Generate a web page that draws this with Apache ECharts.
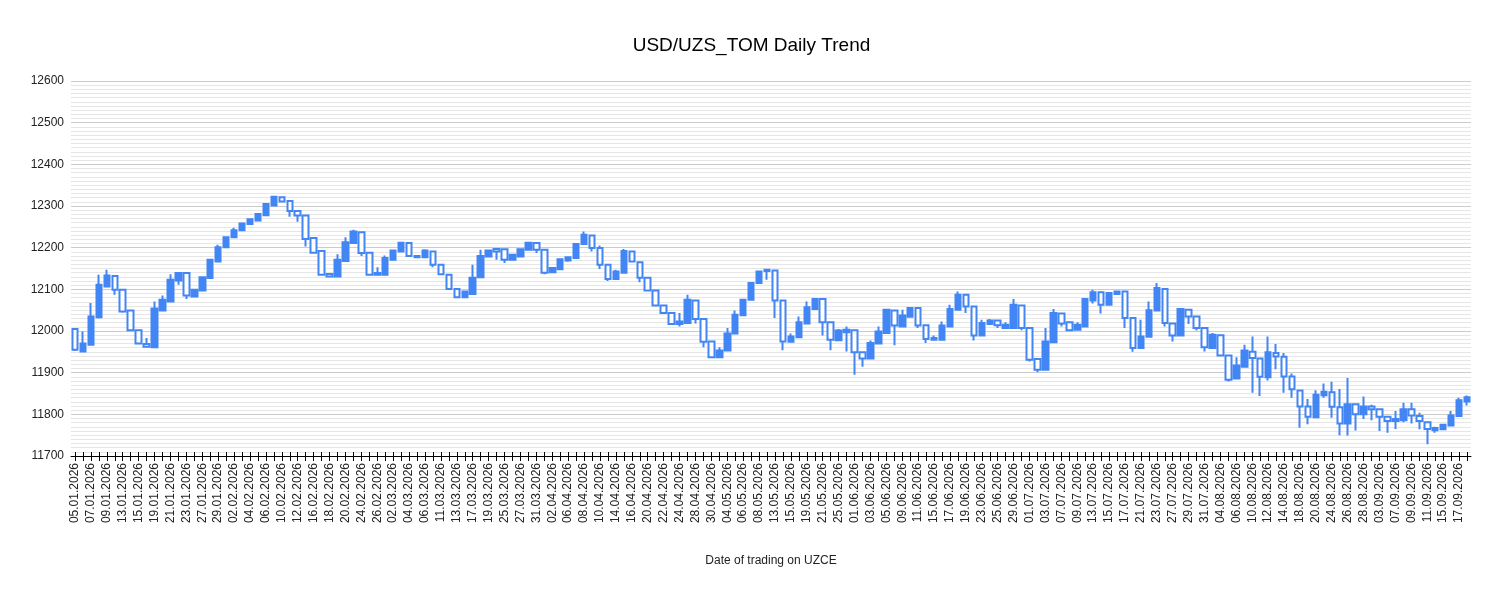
<!DOCTYPE html>
<html>
<head>
<meta charset="utf-8">
<script src="https://cdn.jsdelivr.net/npm/echarts@6/dist/echarts.min.js"></script>
<style>
  html, body { margin: 0; padding: 0; background: #fff; }
  #chart { width: 1503px; height: 593px; }
</style>
</head>
<body>
<div id="chart"></div>
<script>
// trading days on UZCE
var dates = [
  '05.01.2026','06.01.2026','07.01.2026','08.01.2026','09.01.2026','12.01.2026','13.01.2026','14.01.2026','15.01.2026','16.01.2026',
  '19.01.2026','20.01.2026','21.01.2026','22.01.2026','23.01.2026','26.01.2026','27.01.2026','28.01.2026','29.01.2026','30.01.2026',
  '02.02.2026','03.02.2026','04.02.2026','05.02.2026','06.02.2026','09.02.2026','10.02.2026','11.02.2026','12.02.2026','13.02.2026',
  '16.02.2026','17.02.2026','18.02.2026','19.02.2026','20.02.2026','23.02.2026','24.02.2026','25.02.2026','26.02.2026','27.02.2026',
  '02.03.2026','03.03.2026','04.03.2026','05.03.2026','06.03.2026','10.03.2026','11.03.2026','12.03.2026','13.03.2026','16.03.2026',
  '17.03.2026','18.03.2026','19.03.2026','24.03.2026','25.03.2026','26.03.2026','27.03.2026','30.03.2026','31.03.2026','01.04.2026',
  '02.04.2026','03.04.2026','06.04.2026','07.04.2026','08.04.2026','09.04.2026','10.04.2026','13.04.2026','14.04.2026','15.04.2026',
  '16.04.2026','17.04.2026','20.04.2026','21.04.2026','22.04.2026','23.04.2026','24.04.2026','27.04.2026','28.04.2026','29.04.2026',
  '30.04.2026','01.05.2026','04.05.2026','05.05.2026','06.05.2026','07.05.2026','08.05.2026','12.05.2026','13.05.2026','14.05.2026',
  '15.05.2026','18.05.2026','19.05.2026','20.05.2026','21.05.2026','22.05.2026','25.05.2026','26.05.2026','01.06.2026','02.06.2026',
  '03.06.2026','04.06.2026','05.06.2026','08.06.2026','09.06.2026','10.06.2026','11.06.2026','12.06.2026','15.06.2026','16.06.2026',
  '17.06.2026','18.06.2026','19.06.2026','22.06.2026','23.06.2026','24.06.2026','25.06.2026','26.06.2026','29.06.2026','30.06.2026',
  '01.07.2026','02.07.2026','03.07.2026','06.07.2026','07.07.2026','08.07.2026','09.07.2026','10.07.2026','13.07.2026','14.07.2026',
  '15.07.2026','16.07.2026','17.07.2026','20.07.2026','21.07.2026','22.07.2026','23.07.2026','24.07.2026','27.07.2026','28.07.2026',
  '29.07.2026','30.07.2026','31.07.2026','03.08.2026','04.08.2026','05.08.2026','06.08.2026','07.08.2026','10.08.2026','11.08.2026',
  '12.08.2026','13.08.2026','14.08.2026','17.08.2026','18.08.2026','19.08.2026','20.08.2026','21.08.2026','24.08.2026','25.08.2026',
  '26.08.2026','27.08.2026','28.08.2026','02.09.2026','03.09.2026','04.09.2026','07.09.2026','08.09.2026','09.09.2026','10.09.2026',
  '11.09.2026','14.09.2026','15.09.2026','16.09.2026','17.09.2026','18.09.2026'
];

var openVals = [
  12005,11951,11967,12033,12107,12132,12099,12049,12002,11969,
  11961,12049,12071,12121,12139,12083,12097,12127,12167,12201,
  12225,12242,12257,12265,12278,12301,12321,12312,12288,12277,
  12223,12192,12137,12131,12168,12211,12237,12188,12135,12135,
  12171,12191,12211,12180,12177,12191,12159,12135,12101,12081,
  12089,12129,12179,12197,12196,12171,12179,12195,12211,12195,
  12141,12148,12169,12175,12209,12229,12199,12159,12125,12140,
  12191,12165,12128,12097,12061,12043,12017,12019,12073,12029,
  11975,11937,11953,11994,12038,12075,12115,12147,12145,12073,
  11974,11985,12018,12053,12077,12021,11978,11997,12002,11949,
  11934,11970,11995,12049,12011,12034,12055,12014,11979,11979,
  12011,12051,12087,12059,11989,12017,12025,12007,12007,12061,
  12007,11933,11907,11973,12042,12021,12003,12011,12073,12093,
  12063,12089,12095,12031,11959,11986,12049,12101,12018,11989,
  12051,12035,12007,11959,11990,11941,11886,11914,11950,11934,
  11889,11947,11938,11891,11857,11819,11793,11846,11853,11817,
  11778,11824,11800,11819,11812,11794,11784,11786,11812,11796,
  11781,11762,11764,11773,11796,11831
];
var closeVals = [
  11955,11970,12035,12111,12133,12099,12047,12002,11970,11962,
  12054,12075,12123,12139,12085,12099,12129,12171,12201,12225,
  12242,12258,12268,12281,12305,12322,12311,12288,12277,12221,
  12188,12135,12131,12171,12213,12239,12187,12135,12139,12175,
  12193,12212,12180,12177,12193,12159,12136,12101,12081,12095,
  12128,12180,12193,12191,12171,12183,12196,12212,12195,12140,
  12151,12172,12177,12209,12231,12199,12159,12125,12143,12192,
  12167,12128,12097,12061,12043,12017,12023,12075,12029,11974,
  11937,11953,11994,12039,12075,12115,12143,12144,12073,11975,
  11987,12021,12057,12077,12021,11979,12001,12003,11949,11934,
  11971,11999,12051,12013,12037,12055,12013,11981,11983,12013,
  12053,12087,12059,11989,12019,12025,12014,12015,12063,12007,
  11931,11907,11975,12043,12018,12002,12015,12077,12093,12063,
  12091,12095,12031,11959,11987,12050,12103,12019,11989,12053,
  12035,12007,11961,11991,11941,11883,11917,11953,11935,11890,
  11949,11939,11891,11860,11819,11794,11847,11854,11818,11778,
  11824,11800,11819,11812,11794,11784,11789,11812,11797,11784,
  11765,11767,11775,11797,11834,11841
];
var lowVals = [
  11952,11950,11965,12030,12105,12087,12044,12000,11968,11960,
  11960,12048,12070,12111,12077,12082,12096,12126,12166,12200,
  12224,12241,12256,12264,12277,12300,12309,12274,12262,12203,
  12186,12133,12129,12130,12167,12210,12180,12134,12133,12134,
  12170,12190,12179,12175,12176,12153,12135,12100,12080,12080,
  12088,12128,12178,12171,12163,12170,12178,12194,12187,12136,
  12140,12147,12166,12174,12208,12191,12149,12120,12124,12139,
  12166,12117,12096,12060,12042,12016,12011,12018,12018,11961,
  11936,11936,11952,11993,12037,12074,12114,12123,12031,11954,
  11973,11984,12017,12052,11989,11954,11977,11951,11895,11914,
  11933,11969,11994,11966,12010,12033,12007,11971,11978,11978,
  12010,12050,12043,11977,11988,12016,12007,12006,12006,12002,
  11927,11901,11906,11972,12011,12001,12002,12010,12066,12042,
  12062,12088,12007,11950,11958,11985,12048,12011,11975,11988,
  12017,12001,11951,11958,11939,11879,11885,11913,11852,11844,
  11881,11908,11852,11840,11768,11776,11792,11840,11792,11750,
  11749,11761,11789,11786,11760,11756,11765,11781,11778,11764,
  11728,11756,11763,11772,11795,11821
];
var highVals = [
  12007,11999,12067,12135,12147,12134,12100,12050,12003,11983,
  12071,12085,12136,12140,12141,12100,12130,12172,12207,12226,
  12248,12259,12269,12282,12306,12323,12322,12313,12289,12278,
  12224,12193,12138,12184,12225,12243,12238,12189,12153,12181,
  12194,12213,12212,12182,12196,12192,12160,12136,12102,12096,
  12159,12195,12194,12198,12197,12184,12197,12213,12212,12196,
  12152,12173,12179,12210,12239,12230,12205,12160,12147,12197,
  12192,12166,12129,12098,12062,12044,12043,12087,12074,12030,
  11976,11961,12007,12049,12076,12116,12144,12149,12146,12074,
  11994,12035,12071,12078,12078,12022,12005,12011,12003,11950,
  11977,12011,12052,12050,12051,12056,12056,12015,11989,12023,
  12063,12095,12088,12060,12027,12029,12026,12021,12077,12062,
  12008,11934,12007,12053,12043,12022,12021,12078,12099,12094,
  12092,12096,12096,12032,12027,12071,12115,12102,12019,12055,
  12052,12036,12008,11995,11991,11942,11937,11967,11987,11935,
  11987,11969,11947,11898,11858,11837,11858,11874,11878,11861,
  11887,11826,11843,11823,11813,11795,11808,11828,11828,11804,
  11782,11770,11776,11808,11840,11845
];

var yTicks = { min: 11700, max: 12600, step: 100 };

var candles = dates.map(function (d, i) {
  return [openVals[i], closeVals[i], lowVals[i], highVals[i]];
});

var blue = '#4285F4';
var chart = echarts.init(document.getElementById('chart'));
chart.setOption({
  animation: false,
  backgroundColor: '#fff',
  textStyle: { fontFamily: 'Liberation Sans, Arial, sans-serif' },
  title: {
    text: 'USD/UZS_TOM Daily Trend',
    left: 'center',
    top: 31,
    textStyle: { fontSize: 19, fontWeight: 'normal', color: '#000' }
  },
  grid: { left: 71, right: 32, top: 81, bottom: 137 },
  xAxis: [{
    type: 'category',
    data: dates,
    boundaryGap: true,
    name: 'Date of trading on UZCE',
    nameLocation: 'middle',
    nameGap: 99,
    nameTextStyle: { fontSize: 12, color: '#222' },
    axisLine: { lineStyle: { color: '#000', width: 1 } },
    axisTick: { show: true, interval: 0, alignWithLabel: true, length: 5, lineStyle: { color: '#000' } },
    axisLabel: { interval: 1, rotate: 90, fontSize: 12, color: '#222', margin: 7 },
    splitLine: { show: false }
  }, {
    // second axis only for the upper half of the tick crosses
    type: 'category',
    data: dates,
    position: 'bottom',
    axisLine: { show: false },
    axisTick: { show: true, inside: true, interval: 0, alignWithLabel: true, length: 4, lineStyle: { color: '#000' } },
    axisLabel: { show: false },
    splitLine: { show: false }
  }],
  yAxis: {
    type: 'value',
    min: yTicks.min,
    max: yTicks.max,
    interval: yTicks.step,
    axisLine: { show: false },
    axisTick: { show: false },
    axisLabel: {
      fontSize: 12, color: '#222', margin: 7,
      formatter: function (v) { return String(v); }
    },
    splitLine: { lineStyle: { color: '#cccccc', width: 1 } },
    minorTick: { show: false, splitNumber: 10 },
    minorSplitLine: { show: true, lineStyle: { color: '#e6e6e6', width: 1 } }
  },
  series: [{
    type: 'candlestick',
    data: candles,
    barWidth: 6,
    itemStyle: {
      color: blue,
      color0: '#ffffff',
      borderColor: blue,
      borderColor0: blue,
      borderWidth: 2
    }
  }]
});
</script>
</body>
</html>
